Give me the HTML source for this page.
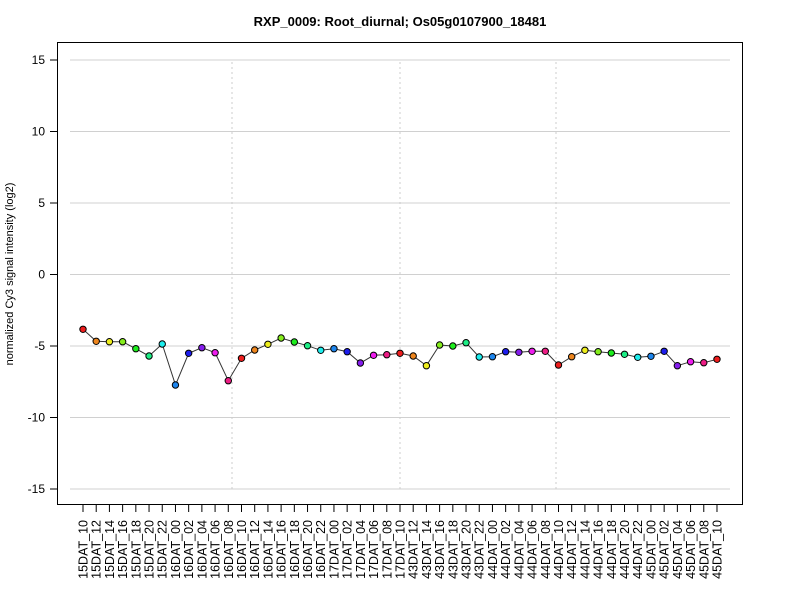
<!DOCTYPE html>
<html><head><meta charset="utf-8"><style>body{margin:0;background:#fff}svg{display:block}</style></head>
<body>
<svg id="s" width="800" height="600" xmlns="http://www.w3.org/2000/svg" font-family="Liberation Sans, Arial, sans-serif">
<rect width="800" height="600" fill="#fff"/>
<text x="400" y="26" text-anchor="middle" font-weight="bold" font-size="13">RXP_0009: Root_diurnal; Os05g0107900_18481</text>
<g id="grid" stroke="#d0d0d0" stroke-width="1"></g>
<g id="vl" stroke="#cccccc" stroke-dasharray="2,3" stroke-width="1"></g>
<rect x="57.5" y="42.5" width="685" height="462" fill="none" stroke="#000"/>
<g id="yax" font-size="12"></g>
<text transform="translate(13,274) rotate(-90)" text-anchor="middle" font-size="11">normalized Cy3 signal intensity (log2)</text>
<g id="xax" font-size="12.5"></g>
<polyline id="pl" fill="none" stroke="#333" stroke-width="1"/>
<g id="pts" stroke="#000" stroke-width="1"></g>
</svg>
<script>
var ns="http://www.w3.org/2000/svg";
function el(p,t,a,txt){var e=document.createElementNS(ns,t);for(var k in a)e.setAttribute(k,a[k]);if(txt)e.textContent=txt;document.getElementById(p).appendChild(e);return e;}
function Y(v){return 274.5-v*14.3;}
[-15,-10,-5,0,5,10,15].forEach(function(v){var y=Y(v);
el("grid","line",{x1:70,x2:730,y1:y,y2:y});
el("yax","line",{x1:50,x2:57,y1:y,y2:y,stroke:"#000"});
el("yax","text",{x:45,y:y+4,"text-anchor":"end"},String(v));});
[232,400,556].forEach(function(x){el("vl","line",{x1:x,x2:x,y1:62,y2:489});});
var labs=[];["10","12","14","16","18","20","22"].forEach(function(h){labs.push("15DAT_"+h)});
["00","02","04","06","08","10","12","14","16","18","20","22"].forEach(function(h){labs.push("16DAT_"+h)});
["00","02","04","06","08","10"].forEach(function(h){labs.push("17DAT_"+h)});
["12","14","16","18","20","22"].forEach(function(h){labs.push("43DAT_"+h)});
["00","02","04","06","08","10","12","14","16","18","20","22"].forEach(function(h){labs.push("44DAT_"+h)});
["00","02","04","06","08","10"].forEach(function(h){labs.push("45DAT_"+h)});
var py=[329.3,341.3,341.7,341.7,348.7,356,344,385,353.3,347.7,352.7,380.7,358.3,350,344.3,338,342,345.7,350.3,348.7,351.7,363,355.3,354.7,353.3,
356,365.7,345,346,342.7,357,356.7,351.7,352.3,351.3,351.3,365,356.7,350.3,351.7,353,354.3,357.3,356.3,351.3,365.7,361.7,362.7,359.3];
var hueMap={"10":0,"12":30,"14":60,"16":90,"18":120,"20":150,"22":180,"00":210,"02":240,"04":270,"06":300,"08":330};
var pts=[];
labs.forEach(function(l,i){var x=83+i*13.208;
el("xax","line",{x1:x,x2:x,y1:505,y2:512,stroke:"#000"});
el("xax","text",{transform:"translate("+(x+4.5)+",520) rotate(-90)","text-anchor":"end"},l);
pts.push(x.toFixed(1)+","+py[i]);
var h=hueMap[l.slice(-2)];
el("pts","circle",{cx:x,cy:py[i],r:3.2,fill:"hsl("+h+",85%,52%)"});});
document.getElementById("pl").setAttribute("points",pts.join(" "));
</script>
</body></html>
